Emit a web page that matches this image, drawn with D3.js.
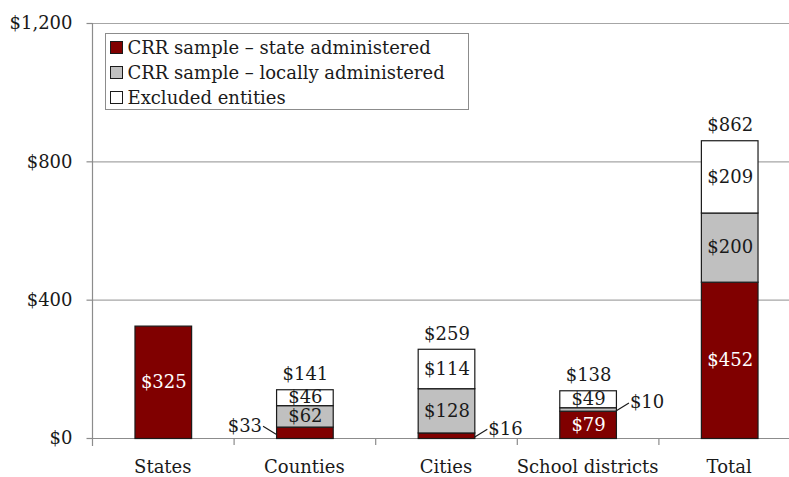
<!DOCTYPE html>
<html>
<head>
<meta charset="utf-8">
<script src="https://cdn.jsdelivr.net/npm/d3@7"></script>
<style>
  body { margin: 0; background: #fff; }
  svg { display: block; }
</style>
</head>
<body>
<svg id="chart" width="789" height="477"></svg>
<script>
// chart data, $ billions
const categories = ["States", "Counties", "Cities", "School districts", "Total"];
const stateAdmin = [325, 33, 16, 79, 452];
const localAdmin = [0, 62, 128, 10, 200];
const excluded = [0, 46, 114, 49, 209];
const totals = [null, 141, 259, 138, 862];
const seriesNames = ["CRR sample \u2013 state administered", "CRR sample \u2013 locally administered", "Excluded entities"];
const yTicks = [0, 400, 800, 1200];

// small segments that get a label with a leader line instead of an inside label
const callouts = [
    { cat: "Counties", series: 0, side: "left" },
    { cat: "Cities", series: 0, side: "right" },
    { cat: "School districts", series: 1, side: "right" }
];

const colors = ["#800000", "#c0c0c0", "#ffffff"];
const textColors = ["#ffffff", "#1a1a1a", "#1a1a1a"];

// "Liberation Serif" resolves to a sans face here, so use DejaVu Serif
const fontFamily = "'DejaVu Serif', serif";
const fontSize = 18;

const svg = d3.select("#chart");
const margin = { left: 92, right: 800, top: 23, bottom: 438 };

const x = d3.scaleBand()
    .domain(categories)
    .range([margin.left, margin.right])
    .paddingInner(0.6)
    .paddingOuter(0.3);

const y = d3.scaleLinear()
    .domain([0, 1200])
    .range([margin.bottom, margin.top]);

const fmt = v => "$" + d3.format(",")(v);

function addText(sel)
{
    return sel.append("text")
        .style("font-family", fontFamily)
        .style("font-size", fontSize + "px")
        .attr("fill", "#1a1a1a");
}

// gridlines
svg.append("g")
    .selectAll("line")
    .data(yTicks.filter(t => t > 0))
    .enter().append("line")
    .attr("x1", margin.left).attr("x2", 789)
    .attr("y1", d => y(d) + 0.5).attr("y2", d => y(d) + 0.5)
    .attr("stroke", "#a6a6a6").attr("stroke-width", 1.2);

// y axis
const yAxis = svg.append("g")
    .attr("transform", `translate(${margin.left + 0.5},0)`)
    .call(d3.axisLeft(y).tickValues(yTicks).tickFormat(fmt).tickSize(6).tickPadding(8));
yAxis.select(".domain").remove();
yAxis.selectAll(".tick line").attr("stroke", "#8c8c8c").attr("stroke-width", 1.2);
yAxis.selectAll(".tick text")
    .style("font-family", fontFamily)
    .style("font-size", fontSize + "px")
    .attr("fill", "#1a1a1a")
    .attr("x", -20);
yAxis.append("line")
    .attr("y1", margin.top).attr("y2", margin.bottom + 8)
    .attr("stroke", "#8c8c8c").attr("stroke-width", 1.2);

// x axis base and band separators
svg.append("line")
    .attr("x1", margin.left).attr("x2", 789)
    .attr("y1", margin.bottom + 0.5).attr("y2", margin.bottom + 0.5)
    .attr("stroke", "#8c8c8c").attr("stroke-width", 1.2);

svg.append("g")
    .selectAll("line")
    .data(categories.slice(1))
    .enter().append("line")
    .attr("x1", d => x(d) - x.step() * x.paddingInner() / 2 + 0.5)
    .attr("x2", d => x(d) - x.step() * x.paddingInner() / 2 + 0.5)
    .attr("y1", margin.bottom).attr("y2", margin.bottom + 7)
    .attr("stroke", "#8c8c8c").attr("stroke-width", 1.2);

categories.forEach(function (c)
{
    addText(svg)
        .attr("x", x(c) + x.bandwidth() / 2)
        .attr("y", 473)
        .attr("text-anchor", "middle")
        .text(c);
});

// stacked bars
const rows = categories.map((c, i) => ({ cat: c, s0: stateAdmin[i], s1: localAdmin[i], s2: excluded[i] }));
const stack = d3.stack().keys(["s0", "s1", "s2"]);
const layers = stack(rows);

const layer = svg.append("g")
    .selectAll("g")
    .data(layers)
    .enter().append("g")
    .attr("fill", (d, i) => colors[i]);

layer.selectAll("rect")
    .data(d => d.filter(p => p[1] > p[0]))
    .enter().append("rect")
    .attr("x", d => x(d.data.cat) + 0.5)
    .attr("y", d => y(d[1]) + 0.5)
    .attr("width", x.bandwidth())
    .attr("height", d => y(d[0]) - y(d[1]))
    .attr("stroke", "#1a1a1a")
    .attr("stroke-width", 1.2);

// segment labels
function isCallout(cat, si)
{
    return callouts.some(c => c.cat === cat && c.series === si);
}

layers.forEach(function (ly, si)
{
    ly.filter(p => p[1] > p[0] && !isCallout(p.data.cat, si)).forEach(function (d)
    {
        addText(svg)
            .attr("x", x(d.data.cat) + x.bandwidth() / 2 + 1)
            .attr("y", (y(d[0]) + y(d[1])) / 2)
            .attr("dy", "0.35em")
            .attr("text-anchor", "middle")
            .attr("fill", textColors[si])
            .text(fmt(d[1] - d[0]));
    });
});

// leader-line labels
callouts.forEach(function (c)
{
    const p = layers[c.series].find(d => d.data.cat === c.cat);
    const ymid = (y(p[0]) + y(p[1])) / 2;
    const left = c.side === "left";
    const bx = left ? x(c.cat) : x(c.cat) + x.bandwidth();
    const dir = left ? -1 : 1;
    const ex = bx + dir * 13;
    const ey = ymid - 6;
    svg.append("line")
        .attr("x1", bx).attr("y1", ymid + 2)
        .attr("x2", ex).attr("y2", ey)
        .attr("stroke", "#1a1a1a").attr("stroke-width", 1.2);
    addText(svg)
        .attr("x", ex + dir * 1)
        .attr("y", ey + 1)
        .attr("dy", "0.25em")
        .attr("text-anchor", left ? "end" : "start")
        .text(fmt(p[1] - p[0]));
});

// totals above bars
categories.forEach(function (c, i)
{
    if (totals[i] == null) return;
    const top = stateAdmin[i] + localAdmin[i] + excluded[i];
    addText(svg)
        .attr("x", x(c) + x.bandwidth() / 2 + 1)
        .attr("y", y(top) - 9)
        .attr("text-anchor", "middle")
        .text(fmt(totals[i]));
});

// legend
const legend = svg.append("g").attr("transform", "translate(105.5,33.5)");
legend.append("rect")
    .attr("width", 363).attr("height", 76)
    .attr("fill", "#fff").attr("stroke", "#8c8c8c").attr("stroke-width", 1);

seriesNames.forEach(function (name, i)
{
    const g = legend.append("g").attr("transform", `translate(5,${7 + i * 25})`);
    g.append("rect")
        .attr("width", 12).attr("height", 12)
        .attr("y", 1)
        .attr("fill", colors[i])
        .attr("stroke", "#1a1a1a").attr("stroke-width", 1);
    addText(g)
        .attr("x", 17)
        .attr("y", 7)
        .attr("dy", "0.35em")
        .text(name);
});
</script>
</body>
</html>
